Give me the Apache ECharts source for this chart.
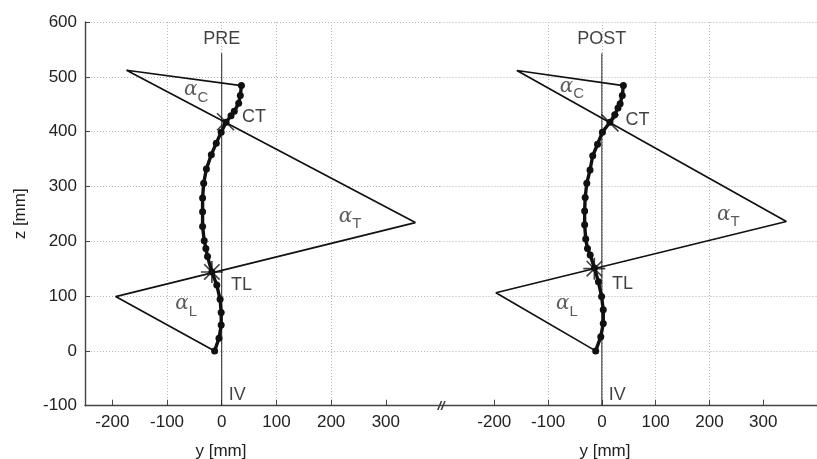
<!DOCTYPE html>
<html><head><meta charset="utf-8">
<script src="https://cdn.jsdelivr.net/npm/echarts@6/dist/echarts.min.js"></script>
<style>html,body{margin:0;padding:0;background:#fff}#c{width:817px;height:459px}</style>
</head><body><div id="c"></div>
<script>
// ---- data ----
const xTickValues = [-200, -100, 0, 100, 200, 300];
const zTickValues = [-100, 0, 100, 200, 300, 400, 500, 600];

// PRE panel: spine points (y = lateral, z = height)
const preSpineY = [-13, -5, -1, -1, -3, -9, -18, -26, -29, -32, -35, -35, -35, -33, -28, -19, -10, -1, 8, 17, 23, 31, 34, 36];
const preSpineZ = [0, 23, 47, 70, 94, 120, 144, 172, 187, 201, 227, 254, 279, 306, 332, 358, 379, 399, 417, 429, 437, 452, 466, 484];
// PRE angle construction lines
const preAngleY = [36, -174, 354, -194, -13];
const preAngleZ = [484, 512, 234, 99, 0];
const preCT = [7, 418];
const preTL = [-18, 144];

// POST panel
const postSpineY = [-11.5, -2, 2.6, 2.6, -0.5, -6.4, -13.7, -21.7, -26.7, -30, -32, -32, -31, -28, -22, -17, -8, 1, 15, 24, 30, 34, 38, 40];
const postSpineZ = [0, 26, 50, 75, 99, 126, 151, 175, 187, 204, 230, 255, 280, 306, 330, 356, 377, 399, 417, 431, 443, 451, 466, 484];
const postAngleY = [40, -158, 343, -197, -11.5];
const postAngleZ = [484, 511.5, 236, 106, 0];
const postCT = [15, 416];
const postTL = [-14, 150];

// vertical reference line (IV)
const ivY = [0, 0];
const ivZ = [543, -100];

// text annotations: [text, y, z, anchor]
const preText = [
  ['PRE', 0, 569, 'c'], ['CT', 36, 427, 'l'], ['TL', 16, 120, 'l'], ['IV', 12, -80, 'l'],
  ['{a|α}{s|C}', -70, 478, 'l'], ['{a|α}{s|T}', 213, 247, 'l'], ['{a|α}{s|L}', -86, 87, 'l']
];
const postText = [
  ['POST', 0, 569, 'c'], ['CT', 43, 422, 'l'], ['TL', 18, 122, 'l'], ['IV', 12, -80, 'l'],
  ['{a|α}{s|C}', -79, 484, 'l'], ['{a|α}{s|T}', 213, 251, 'l'], ['{a|α}{s|L}', -86, 87, 'l']
];

// ---- chart ----
const FONT = '"Liberation Sans", Arial, sans-serif';
const ink = '#111';
const gridLine = { show: true, showMinLine: false, showMaxLine: false, lineStyle: { type: [1, 2], color: '#b5b5b5', width: 1 } };
const zip = (a, b) => a.map((v, i) => [v, b[i]]);

function xAxis(gi, min) {
  return {
    gridIndex: gi, type: 'value', min: min, max: 400,
    axisLine: { show: true, onZero: false, lineStyle: { color: '#444', width: 1.4 } },
    axisTick: { show: true, inside: true, length: 6, customValues: xTickValues, lineStyle: { color: '#444' } },
    axisLabel: { customValues: xTickValues, fontSize: 17, color: '#222', margin: 8, fontFamily: FONT },
    splitLine: gridLine
  };
}
function yAxis(gi, main) {
  return {
    gridIndex: gi, type: 'value', min: -100, max: 600, interval: 100,
    axisLine: { show: main, onZero: false, lineStyle: { color: '#444', width: 1.4 } },
    axisTick: { show: main, inside: true, length: 5, lineStyle: { color: '#444' } },
    axisLabel: { show: main, fontSize: 17, color: '#222', margin: 8, fontFamily: FONT },
    splitLine: { show: true, lineStyle: { type: [1, 2], color: '#b5b5b5', width: 1 } },
    name: main ? 'z [mm]' : '', nameLocation: 'middle', nameGap: 56,
    nameTextStyle: { fontSize: 17, color: '#222', fontFamily: FONT }
  };
}
function panelSeries(gi, spY, spZ, anY, anZ, ct, tl, texts) {
  const ax = { xAxisIndex: gi, yAxisIndex: gi };
  return [
    Object.assign({ type: 'line', data: zip(ivY, ivZ), symbol: 'none', lineStyle: { color: '#222', width: 1 }, silent: true, z: 2 }, ax),
    Object.assign({ type: 'line', data: zip(anY, anZ), symbol: 'none', lineStyle: { color: ink, width: 1.7 }, silent: true, z: 3 }, ax),
    Object.assign({ type: 'line', data: zip(spY, spZ), symbol: 'circle', symbolSize: 7, showAllSymbol: true,
      itemStyle: { color: ink }, lineStyle: { color: ink, width: 3.4 }, silent: true, z: 4 }, ax),
    Object.assign({ type: 'scatter', data: [ct], symbol: 'path://M0,0L10,10M10,0L0,10', symbolSize: 17,
      itemStyle: { color: 'rgba(0,0,0,0)', borderColor: ink, borderWidth: 1.6 }, silent: true, z: 5 }, ax),
    Object.assign({ type: 'scatter', data: [tl], symbol: 'path://M5,0L5,10M0,5L10,5M1.5,1.5L8.5,8.5M8.5,1.5L1.5,8.5', symbolSize: 22,
      itemStyle: { color: 'rgba(0,0,0,0)', borderColor: ink, borderWidth: 1.6 }, silent: true, z: 5 }, ax),
    Object.assign({ type: 'scatter', symbolSize: 1, itemStyle: { color: 'rgba(0,0,0,0)' }, silent: true, z: 6,
      data: texts.map(t => ({
        value: [t[1], t[2]],
        label: {
          show: true, formatter: t[0],
          position: t[3] === 'c' ? 'inside' : 'right', distance: 0,
          align: t[3] === 'c' ? 'center' : 'left', verticalAlign: 'middle',
          fontSize: 18, color: '#111', fontFamily: FONT,
          rich: {
            a: { fontSize: 20, lineHeight: 18, verticalAlign: 'top', color: '#333', fontFamily: '"DejaVu Serif", serif', fontStyle: 'italic' },
            s: { fontSize: 15, lineHeight: 15, padding: [10, 0, 0, 0], verticalAlign: 'top', color: '#333', fontFamily: FONT }
          }
        }
      }))
    }, ax)
  ];
}

const chart = echarts.init(document.getElementById('c'), null, { renderer: 'canvas' });
chart.setOption({
  backgroundColor: '#fff',
  animation: false,
  grid: [
    { left: 85, top: 22, width: 355.5, height: 383.7 },
    { left: 440.5, top: 22, width: 383.2, height: 383.7 }
  ],
  xAxis: [xAxis(0, -250), xAxis(1, -300)],
  yAxis: [yAxis(0, true), yAxis(1, false)],
  graphic: [
    { type: 'text', x: 221, y: 451, style: { text: 'y [mm]', fill: '#222', font: '17px ' + FONT, align: 'center', verticalAlign: 'middle' } },
    { type: 'text', x: 605, y: 451, style: { text: 'y [mm]', fill: '#222', font: '17px ' + FONT, align: 'center', verticalAlign: 'middle' } },
    { type: 'text', x: 441, y: 406, style: { text: '//', fill: '#333', font: 'italic bold 13px ' + FONT, align: 'center', verticalAlign: 'middle' } }
  ],
  series: [].concat(
    panelSeries(0, preSpineY, preSpineZ, preAngleY, preAngleZ, preCT, preTL, preText),
    panelSeries(1, postSpineY, postSpineZ, postAngleY, postAngleZ, postCT, postTL, postText)
  )
});
</script>
</body></html>
